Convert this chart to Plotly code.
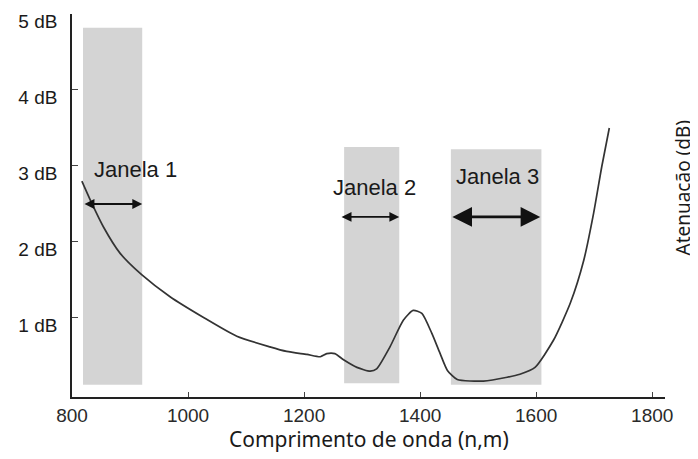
import plotly.graph_objects as go

# Attenuation curve (wavelength nm, dB)
wavelength = [817, 834, 854, 883, 920, 969, 1026, 1084, 1141, 1170, 1205, 1228, 1239, 1253, 1268,
              1291, 1314, 1325, 1348, 1371, 1388, 1403, 1420, 1434, 1447, 1464, 1509, 1550,
              1572, 1598, 1630, 1659, 1682, 1699, 1713, 1726]
attenuation = [2.80, 2.51, 2.20, 1.85, 1.57, 1.28, 1.01, 0.76, 0.62, 0.56, 0.52, 0.49, 0.53, 0.53, 0.45,
               0.35, 0.30, 0.33, 0.62, 0.97, 1.10, 1.06, 0.80, 0.54, 0.31, 0.19, 0.17, 0.22,
               0.26, 0.35, 0.71, 1.20, 1.76, 2.38, 2.99, 3.50]

# Transmission windows
window_names = ["Janela 1", "Janela 2", "Janela 3"]
window_x0 = [819, 1269, 1453]
window_x1 = [921, 1364, 1609]
window_y0 = [0.12, 0.14, 0.12]
window_y1 = [4.82, 3.25, 3.22]
label_x = [909, 1321, 1534]
label_y = [2.95, 2.72, 2.86]
arrow_x0 = [819, 1262, 1453]
arrow_x1 = [921, 1364, 1607]
arrow_y = [2.50, 2.33, 2.33]

y_ticks = [1, 2, 3, 4, 5]
y_ticktext = ["1\u00a0dB", "2\u00a0dB", "3\u00a0dB", "4\u00a0dB", "5\u00a0dB"]
x_ticks = [800, 1000, 1200, 1400, 1600, 1800]

fig = go.Figure()

for i in range(3):
    fig.add_shape(type="rect", x0=window_x0[i], x1=window_x1[i], y0=window_y0[i], y1=window_y1[i],
                  fillcolor="#d4d4d4", line=dict(width=0), layer="below")

fig.add_trace(go.Scatter(x=wavelength, y=attenuation, mode="lines",
                         line=dict(color="#333333", width=1.7, shape="spline", smoothing=0.6),
                         showlegend=False, hoverinfo="skip"))

for i in range(3):
    big = (i == 2)
    fig.add_annotation(x=arrow_x1[i], y=arrow_y[i], ax=arrow_x0[i], ay=arrow_y[i],
                       xref="x", yref="y", axref="x", ayref="y", text="",
                       showarrow=True, arrowside="end+start", arrowhead=2,
                       arrowsize=1.4 if big else 1.1, arrowwidth=2.8 if big else 1.8,
                       arrowcolor="#111111")
    fig.add_annotation(x=label_x[i], y=label_y[i], text=window_names[i], showarrow=False,
                       font=dict(family="Liberation Sans", size=22, color="#1a1a1a"))

fig.add_annotation(x=1.031, y=0.548, xref="paper", yref="paper", text="Atenuação (dB)",
                   textangle=-90, showarrow=False, xanchor="center", yanchor="middle",
                   font=dict(family="Noto Sans", size=19, color="#1a1a1a"))
fig.add_annotation(x=0.5, y=-0.110, xref="paper", yref="paper", text="Comprimento de onda (n,m)",
                   showarrow=False, xanchor="center", yanchor="middle",
                   font=dict(family="Noto Sans", size=21, color="#1a1a1a"))

# The page body has an 8px margin, so the figure is sized/margined to compensate
fig.update_layout(
    width=690, height=451,
    margin=dict(l=64, r=33, t=6, b=62),
    plot_bgcolor="white", paper_bgcolor="white",
    xaxis=dict(range=[800, 1822], tickvals=x_ticks, ticks="inside", ticklen=5, automargin=False,
               showline=True, linecolor="#222222", linewidth=1.5, showgrid=False, zeroline=False,
               tickfont=dict(family="Liberation Sans", size=19, color="#2a2a2a")),
    yaxis=dict(range=[-0.04, 5.0], tickvals=y_ticks, ticktext=y_ticktext, ticks="inside", ticklen=6,
               automargin=False, ticklabeloverflow="allow", ticklabelstandoff=9, ticklabelshift=7,
               showline=True, linecolor="#222222", linewidth=1.5, showgrid=False, zeroline=False,
               tickfont=dict(family="Liberation Sans", size=19, color="#1a1a1a")),
)

fig.write_html("out.html")
